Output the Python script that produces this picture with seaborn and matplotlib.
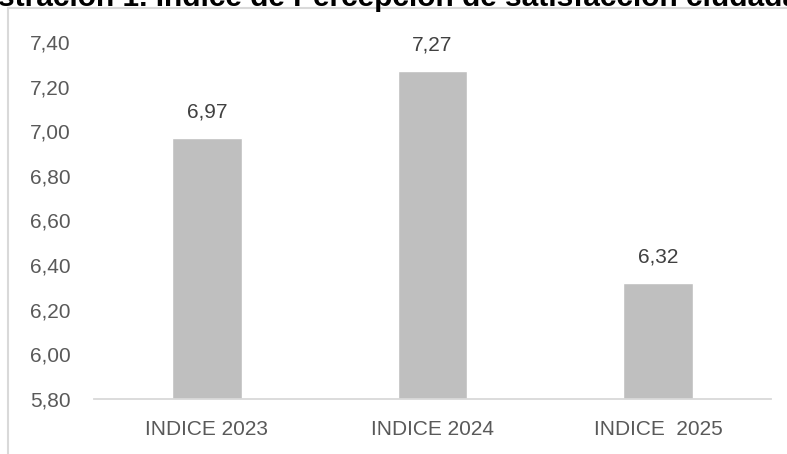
import numpy as np
import matplotlib.pyplot as plt
import seaborn as sns
from matplotlib.ticker import FuncFormatter
from matplotlib.lines import Line2D

categories = ["INDICE 2023", "INDICE 2024", "INDICE  2025"]
values = [6.97, 7.27, 6.32]
title = "Ilustración 1. Índice de Percepción de satisfacción ciudadana"

sns.set_theme(style="white")
plt.rcParams['font.family'] = ['Liberation Sans', 'DejaVu Sans']

W, H = 787, 454
fig = plt.figure(figsize=(W / 100, H / 100), dpi=100)
ax = fig.add_axes([94 / W, 1 - 399 / H, (771 - 94) / W, (399 - 42) / H])

sns.barplot(x=categories, y=values, color="#BFBFBF", width=0.31,
            saturation=1, ax=ax)

ax.set_ylim(5.8, 7.4)
ax.set_yticks(np.arange(5.8, 7.41, 0.2))
ax.yaxis.set_major_formatter(FuncFormatter(lambda v, p: f"{v:.2f}".replace(".", ",")))
ax.tick_params(axis="both", length=0, labelsize=15, labelcolor="#595959")
ax.tick_params(axis="y", pad=17)
ax.tick_params(axis="x", pad=15)
ax.set_xlabel("")
ax.set_ylabel("")
for s in ["top", "right", "left"]:
    ax.spines[s].set_visible(False)
ax.spines["bottom"].set_color("#D9D9D9")
ax.spines["bottom"].set_linewidth(1.3)

# value labels
for bar, v in zip(ax.patches, values):
    ax.annotate(f"{v:.2f}".replace(".", ","),
                (bar.get_x() + bar.get_width() / 2, bar.get_height()),
                xytext=(0, 12), textcoords="offset points",
                ha="center", va="bottom", fontsize=15, color="#404040",
                annotation_clip=False)

# outer frame (only top-left corner visible)
fig.add_artist(Line2D([8 / W, 8 / W], [0, 1 - 8 / H], color="#D9D9D9", lw=1.5,
                      transform=fig.transFigure))
fig.add_artist(Line2D([8 / W, 1], [1 - 8 / H, 1 - 8 / H], color="#D9D9D9", lw=1.5,
                      transform=fig.transFigure))

# title, cut by the top edge
fig.text(-0.047, 1 - 6 / H, title, ha="left", va="baseline", fontsize=21.5,
         fontweight="bold", color="black")

fig.savefig("out.png", dpi=100)
